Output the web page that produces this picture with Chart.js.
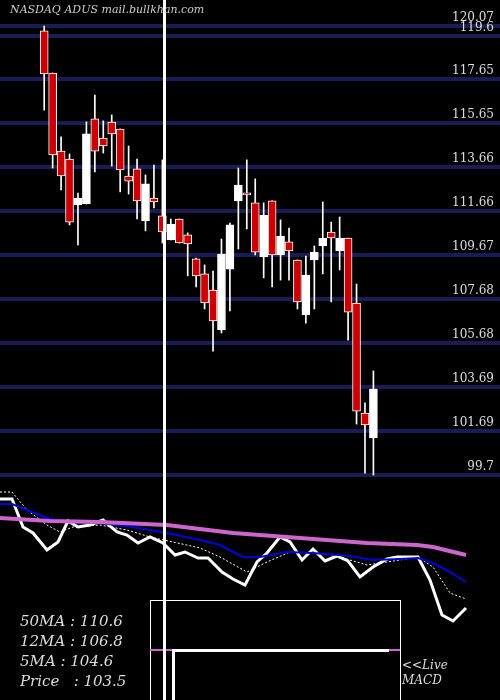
<!DOCTYPE html>
<html><head><meta charset="utf-8">
<script src="https://cdn.jsdelivr.net/npm/chart.js@4"></script>
<style>
body{margin:0;background:#000;width:500px;height:700px;overflow:hidden;position:relative;font-family:"DejaVu Serif",serif;font-style:italic}
canvas{position:absolute;left:0}
.t{position:absolute;color:#ddd;font-size:15px;white-space:pre}
</style></head><body>
<canvas id="main" style="top:0px" width="500" height="494"></canvas>
<canvas id="ind" style="top:480px" width="500" height="220"></canvas>
<div class="t" style="left:10px;top:3px;font-size:11px;color:#ccc">NASDAQ ADUS mail.bullkhan.com</div>
<div class="t" style="left:20px;top:612px">50MA : 110.6</div>
<div class="t" style="left:20px;top:632px">12MA : 106.8</div>
<div class="t" style="left:20px;top:652px">5MA : 104.6</div>
<div class="t" style="left:20px;top:672px">Price   : 103.5</div>
<div class="t" style="left:402px;top:658px;font-size:12px">&lt;&lt;Live</div>
<div class="t" style="left:402px;top:673px;font-size:12px">MACD</div>
<script>
// Daily candles, oldest first
const opens  = [119.83,117.92,114.38,114.02,111.94,111.98,115.84,114.97,115.70,115.38,113.25,113.57,111.21,112.25,111.44,110.35,111.30,110.58,109.49,108.81,108.08,106.27,109.03,112.12,112.48,112.03,109.58,112.12,109.67,110.26,109.44,106.95,109.44,110.08,110.71,109.85,110.44,107.49,102.50,101.37];
const closes = [117.88,114.20,113.25,111.16,112.25,115.16,114.38,114.61,115.16,113.52,113.02,112.12,112.89,112.07,110.71,111.07,110.21,110.17,108.72,107.49,106.68,109.71,111.03,112.84,112.39,109.80,111.48,109.67,110.53,109.85,107.54,108.76,109.80,110.44,110.44,110.44,107.08,102.59,101.96,103.59];
const highs  = [120.05,117.92,115.02,114.25,112.48,115.70,116.92,115.75,116.02,115.38,114.61,114.02,113.30,113.75,113.98,111.30,111.30,110.67,109.53,109.22,108.94,110.39,111.12,113.61,113.98,113.12,112.03,112.12,111.26,110.89,109.44,109.62,110.08,112.07,111.16,111.39,110.44,108.35,102.96,104.41];
const lows   = [116.24,113.61,112.62,111.03,110.12,111.98,113.43,114.29,113.70,112.53,112.43,111.30,110.76,111.80,110.21,110.35,110.21,108.72,108.22,107.22,105.31,106.13,107.13,109.94,110.85,109.67,108.63,108.22,108.53,108.53,107.22,106.58,107.22,108.81,107.54,108.99,105.81,102.00,99.78,99.69];
const priceTicks = [99.7,101.69,103.69,105.68,107.68,109.67,111.66,113.66,115.65,117.65,119.6,120.07];

// Indicator panel lines (x position, level)
const priceLineX = [0,12,23,33,47,58,68,78,90,103,117,127,138,150,163,175,185,198,208,222,233,245,257,267,280,290,302,313,325,337,348,360,373,387,397,418,430,442,453,466];
const priceLineY = [131,131,103,97,80,88,109,103,105,110,98,95,87,93,87,75,78,72,72,58,51,45,68,77,93,88,70,81,69,74,69,53,63,71,73,73,50,15,9,22];
const ma5X = [0,12,27,47,60,73,100,127,150,173,200,220,247,267,290,313,333,350,367,400,418,433,450,466];
const ma5Y = [138,138,120,105,98,103,105,100,93,88,82,73,58,68,78,77,75,70,65,70,73,63,37,31];
const ma12X = [0,12,27,47,67,100,133,167,200,220,243,260,287,313,350,373,400,418,433,450,466];
const ma12Y = [126,126,120,112,108,107,103,97,90,85,73,73,78,77,74,70,71,72,67,58,48];
const ma50X = [0,50,100,167,233,300,367,417,433,466];
const ma50Y = [112,109,108,105,97,92,87,85,83,75];

const xs = opens.map((_, i) => i + 1);
const pts = (X, Y) => X.map((x, i) => ({x: x, y: Y[i]}));

// price labels on the right and the vertical marker line
const overlay = {
  id: 'overlay',
  afterDraw(c) {
    const ctx = c.ctx, y = c.scales.y;
    ctx.save();
    ctx.fillStyle = '#ddd';
    ctx.font = '12px "DejaVu Serif"';
    ctx.textAlign = 'right';
    ctx.textBaseline = 'bottom';
    priceTicks.forEach(v => ctx.fillText(String(v), 494, y.getPixelForValue(v) - 2));
    ctx.fillStyle = '#fff';
    ctx.fillRect(163, 0, 3, c.height);
    ctx.restore();
  }
};

new Chart(document.getElementById('main'), {
  type: 'bar',
  data: {
    datasets: [
      {
        data: xs.map((x, i) => ({x: x, y: [lows[i], highs[i]]})),
        backgroundColor: '#fff', barThickness: 1, grouped: false, order: 2
      },
      {
        data: xs.map((x, i) => ({x: x, y: [opens[i], closes[i]]})),
        backgroundColor: xs.map((_, i) => closes[i] >= opens[i] ? '#fff' : '#cc0000'),
        borderColor: '#fff', borderWidth: 1, borderSkipped: false,
        barThickness: 8, grouped: false, order: 1, minBarLength: 2
      }
    ]
  },
  options: {
    responsive: false, animation: false,
    layout: {padding: 0},
    plugins: {legend: {display: false}, tooltip: {enabled: false}},
    scales: {
      x: {type: 'linear', min: 0.70, max: 50.06, display: false},
      y: {
        position: 'right', min: 98.83, max: 121.23,
        afterBuildTicks: ax => { ax.ticks = priceTicks.map(v => ({value: v})); },
        afterFit: ax => { ax.width = 0; },
        grid: {color: '#1c1c55', lineWidth: 4, drawTicks: false},
        border: {display: false},
        ticks: {display: false}
      }
    }
  },
  plugins: [overlay]
});

const macdBox = {
  id: 'macdBox',
  afterDraw(c) {
    const ctx = c.ctx;
    ctx.save();
    ctx.strokeStyle = '#fff'; ctx.lineWidth = 1;
    ctx.strokeRect(150.5, 120.5, 250, 110);
    ctx.fillStyle = '#cc66cc';
    ctx.fillRect(150, 169, 250, 2);
    ctx.fillStyle = '#fff';
    ctx.fillRect(173, 169, 216, 3);
    ctx.fillRect(172, 169, 3, 60);
    ctx.fillRect(163, 0, 3, 220);
    ctx.restore();
  }
};

new Chart(document.getElementById('ind'), {
  type: 'line',
  data: {
    datasets: [
      {data: pts(ma50X, ma50Y), borderColor: '#cc66cc', borderWidth: 4},
      {data: pts(ma12X, ma12Y), borderColor: '#0000dd', borderWidth: 2},
      {data: pts(ma5X, ma5Y), borderColor: '#fff', borderWidth: 1, borderDash: [2, 2]},
      {data: pts(priceLineX, priceLineY), borderColor: '#fff', borderWidth: 3}
    ]
  },
  options: {
    responsive: false, animation: false,
    layout: {padding: 0},
    elements: {point: {radius: 0}, line: {tension: 0}},
    plugins: {legend: {display: false}, tooltip: {enabled: false}},
    scales: {
      x: {type: 'linear', min: 0, max: 500, display: false},
      y: {min: -70, max: 150, display: false}
    }
  },
  plugins: [macdBox]
});
</script>
</body></html>
